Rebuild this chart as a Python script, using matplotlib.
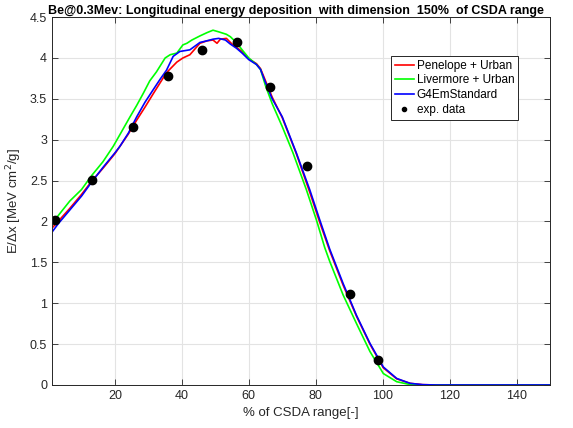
import numpy as np
import matplotlib.pyplot as plt

plt.rcParams['font.family'] = ['Liberation Sans', 'DejaVu Sans']

# Penelope + Urban
pen_x = [1.2, 3, 6.5, 10, 13, 16.4, 20, 24, 26.5, 29, 31.4, 35.4, 38.5, 40.3, 42.4,
         45.4, 47.5, 49.3, 50.5, 51.5, 53.3, 55, 56.3, 58, 60, 62.3, 63.5, 65, 67, 70,
         74.2, 78.2, 81.2, 84.2, 88.2, 92.2, 96.2, 100.2, 104.2, 108.2, 112, 116, 150]
pen_y = [1.92, 2.0, 2.16, 2.33, 2.49, 2.65, 2.83, 3.07, 3.24, 3.40, 3.56, 3.82, 3.95, 4.0, 4.04,
         4.18, 4.21, 4.22, 4.18, 4.23, 4.24, 4.17, 4.13, 4.08, 3.99, 3.93, 3.87, 3.72, 3.52, 3.27,
         2.83, 2.36, 1.99, 1.64, 1.22, 0.84, 0.50, 0.21, 0.075, 0.02, 0.004, 0.0, 0.0]

# Livermore + Urban
liv_x = [1.2, 3, 6.5, 10, 13, 16.4, 19.5, 22, 24.5, 26.5, 28.5, 30.4, 32.4, 35, 36.5,
         38.5, 40.3, 41.5, 43, 45.4, 47.5, 49.3, 51, 53.3, 54.5, 56.5, 58, 60, 62.3, 63.5,
         65, 67, 70, 73.2, 77.2, 80.2, 82.7, 84.2, 88.2, 92.2, 96.2, 100.2, 104.2, 108.2, 112, 150]
liv_y = [1.97, 2.07, 2.25, 2.39, 2.56, 2.73, 2.92, 3.10, 3.28, 3.42, 3.57, 3.72, 3.83, 4.0, 4.04,
         4.06, 4.16, 4.18, 4.22, 4.27, 4.31, 4.34, 4.32, 4.29, 4.26, 4.18, 4.10, 4.0, 3.92, 3.86,
         3.66, 3.44, 3.16, 2.84, 2.39, 2.02, 1.68, 1.51, 1.10, 0.75, 0.41, 0.14, 0.04, 0.005, 0.0, 0.0]

# G4EmStandard
std_x = [1.2, 3, 6.5, 10, 13, 16.4, 20, 21.5, 24, 26.5, 29, 31.4, 33.5, 35.4, 37.4,
         39.4, 42.4, 45.4, 47.5, 49.3, 51, 53, 54.5, 56.3, 58, 60, 62.3, 63.5, 65, 67,
         70, 74.2, 78.2, 81.2, 84.2, 88.2, 92.2, 96.2, 100.2, 104.2, 108.2, 112, 116, 150]
std_y = [1.87, 1.97, 2.14, 2.31, 2.48, 2.66, 2.84, 2.92, 3.08, 3.28, 3.46, 3.61, 3.74, 3.85, 4.02,
         4.08, 4.10, 4.19, 4.21, 4.23, 4.24, 4.22, 4.17, 4.12, 4.06, 3.98, 3.92, 3.86, 3.70, 3.50,
         3.28, 2.84, 2.39, 2.02, 1.66, 1.24, 0.85, 0.51, 0.22, 0.08, 0.02, 0.004, 0.0, 0.0]

# measurements
exp_x = [2.1, 13.0, 25.3, 35.9, 45.9, 56.6, 66.3, 77.5, 90.2, 98.6]
exp_y = [2.02, 2.51, 3.15, 3.78, 4.10, 4.19, 3.65, 2.68, 1.11, 0.30]

fig = plt.figure(figsize=(5.73, 4.28), dpi=100)
ax = fig.add_axes([0.0908, 0.1005, 0.869, 0.8595])

ax.plot(pen_x, pen_y, color='#ff0000', lw=1.2, label='Penelope + Urban')
ax.plot(liv_x, liv_y, color='#00ff00', lw=1.2, label='Livermore + Urban')
ax.plot(std_x, std_y, color='#0000ff', lw=1.2, label='G4EmStandard')
ax.plot(exp_x, exp_y, 'o', color='black', ms=6, label='exp. data')

ax.set_xlim(1.2, 150)
ax.set_ylim(0, 4.5)
ax.set_xticks(np.arange(20, 141, 20))
ax.set_yticks(np.arange(0, 4.51, 0.5))
ax.set_yticklabels(['0', '0.5', '1', '1.5', '2', '2.5', '3', '3.5', '4', '4.5'])
ax.grid(True, color='#e3e3e3', lw=0.8)
ax.set_axisbelow(True)
ax.tick_params(direction='in', top=True, right=True, labelsize=9, colors='#262626',
               length=4, width=0.6)
for s in ax.spines.values():
    s.set_color('#262626')
    s.set_linewidth(0.7)

ax.set_xlabel('% of CSDA range[-]', fontsize=9.5, color='#262626')
ax.set_ylabel('E/Δx [MeV cm$^2$/g]', fontsize=9.5, color='#262626', labelpad=4)
ax.set_title('Be@0.3Mev: Longitudinal energy deposition  with dimension  150%  of CSDA range',
             fontsize=9, fontweight='bold', pad=2, x=0.49)

leg = ax.legend(loc='upper left', bbox_to_anchor=(0.68, 0.895), fontsize=8.5,
                frameon=True, fancybox=False, edgecolor='#262626', framealpha=1,
                handlelength=1.6, handletextpad=0.25, borderpad=0.35, labelspacing=0.22,
                markerscale=0.5, borderaxespad=0)
leg.get_frame().set_linewidth(0.7)

fig.savefig('out.png', dpi=100)
